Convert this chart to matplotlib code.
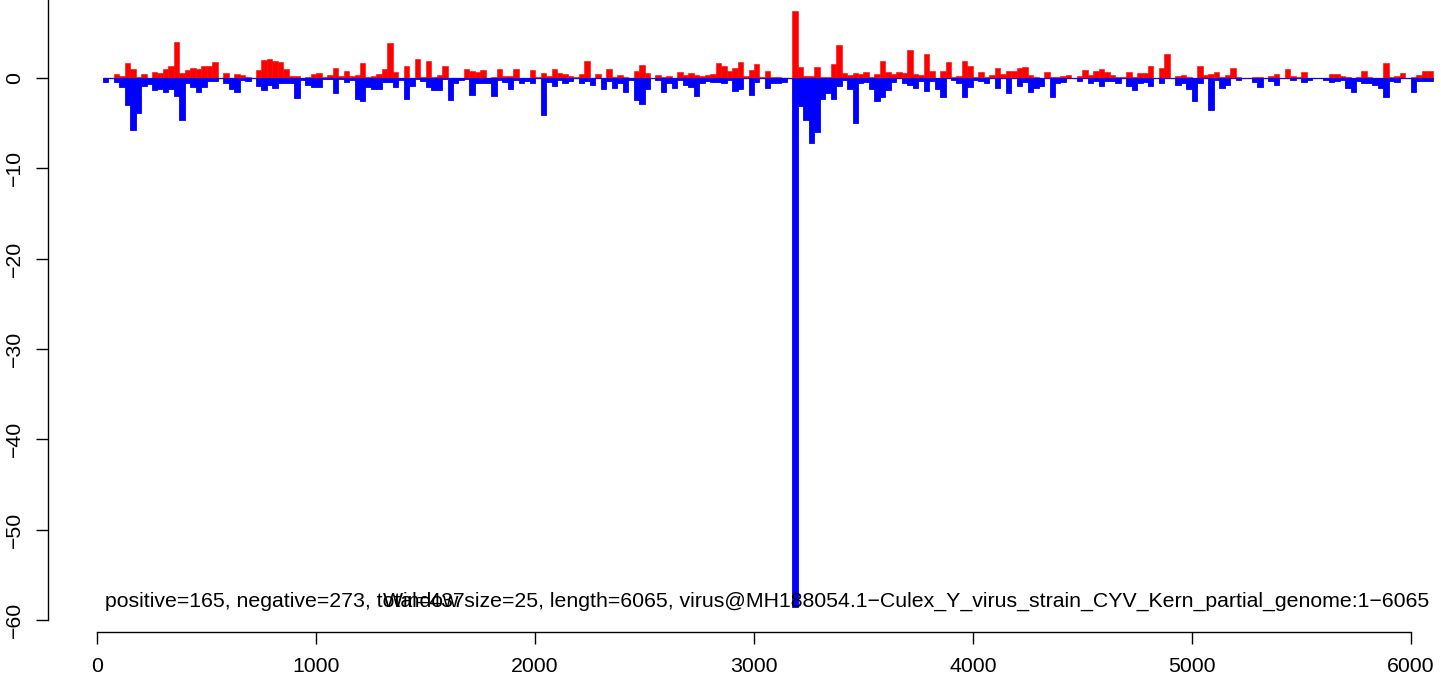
import numpy as np
import matplotlib
matplotlib.use("Agg")
import matplotlib.pyplot as plt

plt.rcParams['font.family'] = ['Liberation Sans', 'DejaVu Sans']

# window size 25, windows 1..243 (left edge = 25 * k)
window = 25
positive = [
    0, 0, 0.45, 0.2, 1.7, 1.0, 0.1, 0.45, 0, 0.65,
    0.55, 1.0, 1.3, 4.0, 0.55, 0.9, 1.1, 1.0, 1.3, 1.3,
    1.8, 0, 0.55, 0, 0.45, 0.35, 0.1, 0, 0.9, 2.0,
    2.1, 1.9, 1.8, 1.0, 0.2, 0.2, 0.05, 0.1, 0.45, 0.55,
    0.1, 0.35, 1.1, 0.2, 0.8, 0.2, 0.35, 1.7, 0.1, 0.2,
    0.45, 1.0, 3.9, 0.65, 0.05, 1.3, 0, 2.1, 0.1, 1.9,
    0.1, 0.35, 1.3, 0, 0, 0, 1.0, 0.8, 0.65, 0.9,
    0, 0.1, 1.0, 0.2, 0.2, 1.0, 0, 0, 0.9, 0.1,
    0.55, 0.2, 1.0, 0.55, 0.45, 0.2, 0.1, 0.45, 1.9, 0,
    0.45, 0, 1.0, 0.1, 0.35, 0.1, 0, 0.8, 1.45, 0.55,
    0, 0.35, 0.1, 0.2, 0, 0.65, 0.35, 0.55, 0.35, 0.2,
    0.35, 0.45, 1.7, 1.3, 0.8, 1.1, 1.8, 0.2, 0.9, 1.55,
    0.1, 0.8, 0.1, 0.1, 0, 0, 7.4, 1.2, 0.2, 0.2,
    1.2, 0.1, 0.1, 1.55, 3.65, 0.55, 0.35, 0.55, 0.45, 0.65,
    0.1, 0.45, 1.9, 0.65, 0.45, 0.65, 0.55, 3.1, 0.45, 0.35,
    2.65, 0.8, 0, 0.8, 1.8, 0.1, 0.2, 1.9, 1.3, 0.1,
    0.65, 0.1, 0.35, 1.1, 0.45, 0.8, 0.8, 1.1, 1.2, 0.35,
    0.1, 0, 0.65, 0.1, 0.1, 0.2, 0.35, 0, 0.2, 0.9,
    0.35, 0.8, 1.0, 0.65, 0.35, 0.1, 0.1, 0.65, 0.1, 0.55,
    0.55, 1.3, 0, 1.1, 2.65, 0, 0.2, 0.35, 0.1, 0,
    1.3, 0.35, 0.45, 0.65, 0.1, 0.35, 1.1, 0.1, 0, 0,
    0.1, 0.1, 0, 0.2, 0.45, 0, 1.0, 0.2, 0.1, 0.65,
    0, 0, 0, 0.05, 0.45, 0.45, 0.2, 0.1, 0, 0.1,
    0.8, 0.1, 0, 0, 1.7, 0.1, 0.2, 0.55, 0.05, 0.1,
    0.35, 0.8, 0.8,
]
negative = [
    -0.4, 0, -0.4, -1.0, -3.0, -5.8, -3.9, -0.85, -0.7, -1.3,
    -1.2, -1.5, -1.2, -2.0, -4.6, -0.5, -1.0, -1.5, -1.0, -0.3,
    -0.3, 0, -0.6, -1.2, -1.5, -0.2, -0.3, 0, -0.85, -1.3,
    -0.75, -1.1, -0.6, -0.6, -0.5, -2.2, -0.2, -0.75, -1.0, -1.0,
    -0.1, -0.1, -1.7, -0.1, -0.4, -0.2, -2.3, -2.6, -1.0, -1.2,
    -1.2, -0.4, -0.4, -1.0, -0.2, -2.3, -0.85, -0.1, -0.3, -1.0,
    -1.3, -1.3, -0.1, -2.4, -0.6, -0.2, -0.1, -1.85, -0.6, -0.5,
    -0.5, -2.0, -0.2, -0.4, -1.2, -0.2, -0.6, -0.3, -0.5, -0.05,
    -4.05, -0.4, -0.85, -0.2, -0.5, -0.3, -0.05, -0.6, -0.3, -0.75,
    -0.05, -1.2, -0.3, -1.1, -0.6, -1.6, -0.2, -2.4, -2.85, -1.2,
    0, -0.2, -1.6, -0.5, -1.1, -0.2, -0.75, -1.0, -2.0, -0.5,
    -0.3, -0.4, -0.4, -0.5, -0.2, -1.4, -1.2, -0.05, -1.85, -0.4,
    -0.05, -1.1, -0.6, -0.6, -0.4, 0, -58.6, -3.1, -4.7, -7.2,
    -6.0, -2.3, -1.7, -2.3, -0.85, -0.2, -1.2, -4.95, -0.5, -0.4,
    -1.2, -2.6, -2.1, -1.3, -0.4, -0.05, -0.6, -0.75, -1.1, -0.3,
    -1.4, -0.3, -1.2, -2.1, -0.05, -0.2, -0.5, -2.1, -1.0, -0.2,
    -0.3, -0.6, -0.05, -1.1, -0.05, -1.7, -0.05, -0.85, -0.4, -1.5,
    -1.1, -0.85, -0.05, -2.1, -0.5, -0.4, -0.05, 0, -0.3, -0.05,
    -0.6, -0.3, -0.85, -0.3, -0.3, -0.6, -0.05, -0.85, -1.3, -0.6,
    -0.4, -0.85, 0, -0.5, -0.05, 0, -0.75, -0.5, -1.2, -2.5,
    -0.5, -0.05, -3.5, -0.2, -1.1, -0.75, -0.05, -0.2, 0, 0,
    -0.4, -1.0, 0, -0.3, -0.75, 0, -0.05, -0.2, -0.05, -0.4,
    -0.2, -0.02, -0.02, -0.2, -0.4, -0.3, -0.2, -1.1, -1.6, -0.3,
    -0.5, -0.6, -0.75, -1.1, -2.1, -0.3, -0.4, -0.05, 0, -1.6,
    -0.3, -0.3, -0.3,
]
x_ticks = [0, 1000, 2000, 3000, 4000, 5000, 6000]
y_ticks = [0, -10, -20, -30, -40, -50, -60]
label_left = "positive=165, negative=273, total=437"
label_right = ("Window size=25, length=6065, "
               "virus@MH188054.1\u2212Culex_Y_virus_strain_CYV_Kern_partial_genome:1\u22126065")

starts = window * np.arange(1, len(positive) + 1)

W, H = 1441, 678
fig = plt.figure(figsize=(W / 100, H / 100), dpi=100)
# axes: left spine at x=48px, bottom spine at y=632px, top at image edge
ax = fig.add_axes([48 / W, (H - 632) / H, (W - 48) / W, 632 / H])

# data -> pixel mapping
px_per_x = (1410.7 - 97.3) / 6000
px_per_y = (620 - 78) / 60

ax.hlines(0, starts[0], starts[-1] + window, color='#555555', lw=1.0, zorder=1)
ax.bar(starts, positive, width=window, align='edge', color='#FF0000',
       edgecolor='#FF0000', linewidth=0.4, zorder=2)
ax.bar(starts, negative, width=window, align='edge', color='#0000FF',
       edgecolor='#0000FF', linewidth=0.6, zorder=3)

# the two labels overlap in the original too
ax.text(35, -57.9, label_left, fontsize=15.3, ha='left', va='center', zorder=4)
ax.text((383 - 97.3) / px_per_x, -57.9, label_right, fontsize=15.3,
        ha='left', va='center', zorder=4)

for side in ['top', 'right']:
    ax.spines[side].set_visible(False)
ax.spines['bottom'].set_bounds(0, 6000)
ax.spines['left'].set_bounds(-60, 10)
for side in ['bottom', 'left']:
    ax.spines[side].set_linewidth(1.0)

ax.set_xticks(x_ticks)
ax.set_xticklabels([str(v) for v in x_ticks], fontsize=15.3)
ax.set_yticks(y_ticks)
ax.set_yticklabels([str(v).replace('-', '\u2212') for v in y_ticks],
                   fontsize=15.3, rotation=90, va='center')
ax.tick_params(axis='both', length=8.5, width=1.0, direction='out')
ax.tick_params(axis='x', pad=9.5)
ax.tick_params(axis='y', pad=9)

# set limits last so tick setting cannot widen them
ax.set_xlim((48 - 97.3) / px_per_x, (W - 97.3) / px_per_x)
ax.set_ylim(-(632 - 78) / px_per_y, 78 / px_per_y)
ax.patch.set_alpha(0)

fig.savefig('out.png', dpi=100)
